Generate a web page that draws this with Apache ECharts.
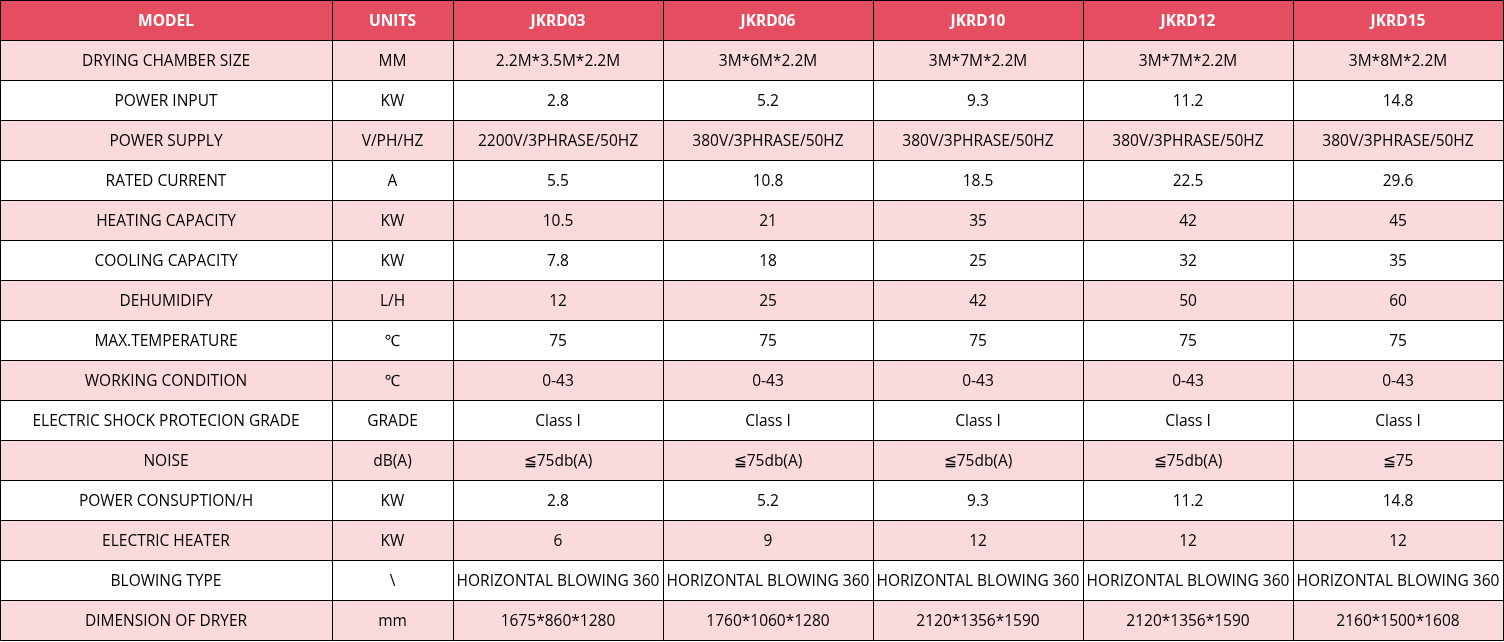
<!DOCTYPE html>
<html><head><meta charset="utf-8">
<script src="https://cdn.jsdelivr.net/npm/echarts@6/dist/echarts.min.js"></script>
<style>html,body{margin:0;padding:0;background:#fff}#c{width:1504px;height:642px}</style>
</head><body><div id="c"></div>
<script>
const headers = ['MODEL','UNITS','JKRD03','JKRD06','JKRD10','JKRD12','JKRD15'];
const parameters = ['DRYING CHAMBER SIZE','POWER INPUT','POWER SUPPLY','RATED CURRENT','HEATING CAPACITY','COOLING CAPACITY','DEHUMIDIFY','MAX.TEMPERATURE','WORKING CONDITION','ELECTRIC SHOCK PROTECION GRADE','NOISE','POWER CONSUPTION/H','ELECTRIC HEATER','BLOWING TYPE','DIMENSION OF DRYER'];
const units = ['MM','KW','V/PH/HZ','A','KW','KW','L/H','℃','℃','GRADE','dB(A)','KW','KW','\\','mm'];
const jkrd03 = ['2.2M*3.5M*2.2M','2.8','2200V/3PHRASE/50HZ','5.5','10.5','7.8','12','75','0-43','Class I','≦75db(A)','2.8','6','HORIZONTAL BLOWING 360','1675*860*1280'];
const jkrd06 = ['3M*6M*2.2M','5.2','380V/3PHRASE/50HZ','10.8','21','18','25','75','0-43','Class I','≦75db(A)','5.2','9','HORIZONTAL BLOWING 360','1760*1060*1280'];
const jkrd10 = ['3M*7M*2.2M','9.3','380V/3PHRASE/50HZ','18.5','35','25','42','75','0-43','Class I','≦75db(A)','9.3','12','HORIZONTAL BLOWING 360','2120*1356*1590'];
const jkrd12 = ['3M*7M*2.2M','11.2','380V/3PHRASE/50HZ','22.5','42','32','50','75','0-43','Class I','≦75db(A)','11.2','12','HORIZONTAL BLOWING 360','2120*1356*1590'];
const jkrd15 = ['3M*8M*2.2M','14.8','380V/3PHRASE/50HZ','29.6','45','35','60','75','0-43','Class I','≦75','14.8','12','HORIZONTAL BLOWING 360','2160*1500*1608'];

// layout (not data)
const colWidths = [332,121,210,210,210,210,210];
const colEdges = [0];
colWidths.forEach(w => colEdges.push(colEdges[colEdges.length-1] + w));

const columns = [parameters, units, jkrd03, jkrd06, jkrd10, jkrd12, jkrd15];
const rowNames = ['header'].concat(parameters);
const cells = [];
headers.forEach((h, c) => cells.push([c, 0, h]));
columns.forEach((col, c) => col.forEach((v, r) => cells.push([c, r + 1, v])));

const HEADER_BG = '#e54e60';
const PINK = '#fadadd';
const FONT = '"Open Sans", "Noto Sans", "DejaVu Sans", sans-serif';

const chart = echarts.init(document.getElementById('c'), null, {renderer: 'canvas'});
chart.setOption({
  animation: false,
  grid: {left: 0, top: 0, width: 1504, height: 640},
  xAxis: {type: 'value', min: 0, max: 1504, show: false},
  yAxis: {type: 'category', data: rowNames, inverse: true, show: false},
  series: [{
    type: 'custom',
    data: cells,
    encode: {x: 0, y: 1},
    renderItem: function (params, api) {
      const c = api.value(0), r = api.value(1);
      const txt = cells[params.dataIndex][2];
      const center = api.coord([0, r]);
      const h = api.size([0, 1])[1];
      const x0 = api.coord([colEdges[c], r])[0];
      const x1 = api.coord([colEdges[c + 1], r])[0];
      const y0 = Math.round(center[1] - h / 2);
      const hh = Math.round(h);
      const bg = r === 0 ? HEADER_BG : (r % 2 === 1 ? PINK : '#ffffff');
      return {
        type: 'group',
        children: [
          {type: 'rect', z2: 0, shape: {x: x0, y: y0, width: x1 - x0, height: hh}, style: {fill: bg}},
          {type: 'rect', z2: 5, shape: {x: x0 + 0.5, y: y0 + 0.5, width: x1 - x0, height: hh}, style: {fill: null, stroke: '#000', lineWidth: 1}},
          {type: 'text', z2: 10, x: (x0 + x1) / 2, y: y0 + hh / 2 + 2, style: {
            text: txt, align: 'center', verticalAlign: 'middle',
            fill: r === 0 ? '#ffffff' : '#000000',
            font: (r === 0 ? 'bold ' : '') + '15.5px ' + FONT
          }}
        ]
      };
    }
  }]
});
</script>
</body></html>
